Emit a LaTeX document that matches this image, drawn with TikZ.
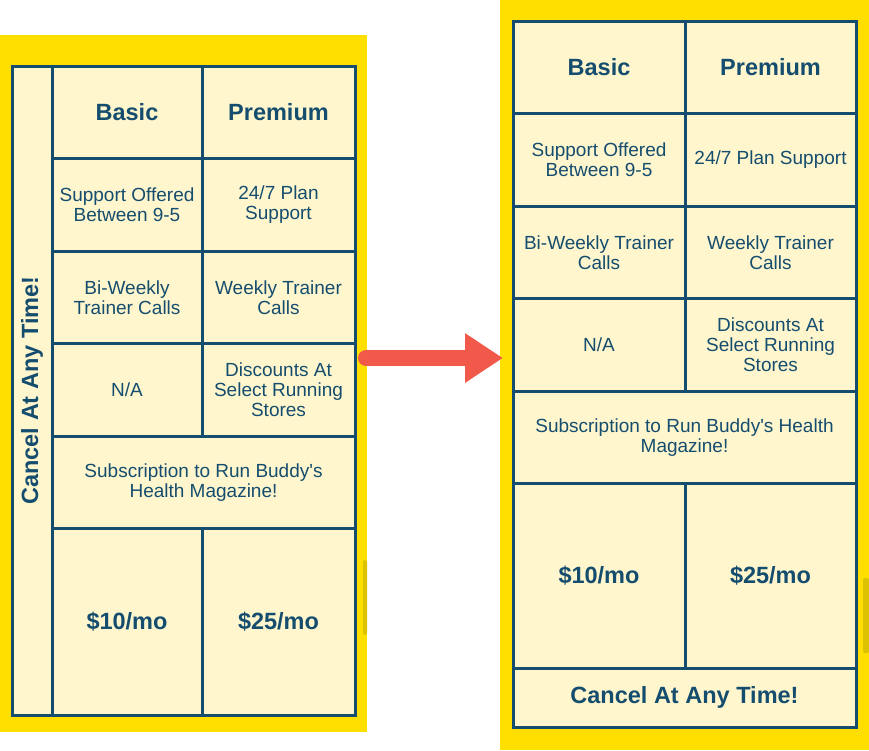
\documentclass[tikz,border=0pt]{standalone}
\usepackage{fontspec}
\setmainfont{Liberation Sans}[Ligatures=TeXOff]
\usetikzlibrary{arrows.meta,calc,positioning}
\definecolor{navy}{HTML}{154D6E}
\definecolor{cream}{HTML}{FFF6CE}
\definecolor{gold}{HTML}{FFDF00}
\definecolor{coral}{HTML}{F15A4B}
\definecolor{scroll}{HTML}{DCC200}
\newdimen\hdim
\newdimen\wdim
\newdimen\odim
\hdim=92.5pt
\tikzstyle{cell}=[
  draw=navy,
  fill=cream,
  text=navy,
  font={\fontsize{19}{20}\selectfont},
  align=center,
  inner sep=0pt,
  outer sep=0pt,
  minimum height=\hdim,
  line width=3pt,
  rectangle,
]
\tikzstyle{head}=[
  font={\fontsize{23.5}{25}\selectfont\bfseries},
]
\tikzstyle{panel}=[
  fill=gold,
  inner sep=0pt,
  outer sep=0pt,
  rectangle,
]
\tikzstyle{scrollbar}=[
  fill=scroll,
  rounded corners=2pt,
]
\tikzstyle{bigarrow}=[
  color=coral,
  line width=16pt,
  line cap=round,
]
\tikzset{
  node distance=0pt,
  >={Triangle[length=38pt,width=47pt]},
  x=1pt,
  y=-1pt,
}
\begin{document}
\begin{tikzpicture}
      \useasboundingbox (0,0) rectangle (869,750);
      \node (lpanel) [panel, minimum width=367pt, minimum height=697pt] at (183.5,383.5) {};
      \node (rpanel) [panel, minimum width=369pt, minimum height=750pt] at (684.5,375) {};
      \fill [scrollbar] (363,560) rectangle (367,635);
      \fill [scrollbar] (863,578) rectangle (869,653);
      %% left table
      \wdim=150pt \odim=153pt
      \node (lbasic) [cell, head, minimum width=\wdim, anchor=north west] at (52,66) {Basic};
      \node (lpremium) [cell, head, minimum width=\odim, right=of lbasic] {Premium};
      \node (lsupport) [cell, minimum width=\wdim, below=of lbasic] {Support Offered\\Between 9-5};
      \node (lplan) [cell, minimum width=\odim, right=of lsupport] {24/7 Plan\\Support};
      \node (ltrainer) [cell, minimum width=\wdim, below=of lsupport] {Bi-Weekly\\Trainer Calls};
      \node (lweekly) [cell, minimum width=\odim, right=of ltrainer] {Weekly Trainer\\Calls};
      \node (lna) [cell, minimum width=\wdim, below=of ltrainer] {N/A};
      \node (ldiscount) [cell, minimum width=\odim, right=of lna] {Discounts At\\Select Running\\Stores};
      \node (lmagazine) [cell, minimum width=\wdim+\odim, anchor=north west] at (lna.south west)
        {Subscription to Run Buddy's\\Health Magazine!};
      \node (lbasicprice) [cell, head, minimum width=\wdim, minimum height=186.5pt, anchor=north west]
        at (lmagazine.south west) {\$10/mo};
      \node (lpremiumprice) [cell, head, minimum width=\odim, minimum height=186.5pt, right=of lbasicprice] {\$25/mo};
      \node (lcancel) [cell, head, rotate=90, minimum width=649pt, minimum height=40pt] at (32,390.5)
        {Cancel At Any Time!};
      %% right table
      \wdim=172pt \odim=171pt
      \node (rbasic) [cell, head, minimum width=\wdim, anchor=north west] at (513,21) {Basic};
      \node (rpremium) [cell, head, minimum width=\odim, right=of rbasic] {Premium};
      \node (rsupport) [cell, minimum width=\wdim, below=of rbasic] {Support Offered\\Between 9-5};
      \node (rplan) [cell, minimum width=\odim, right=of rsupport] {24/7 Plan Support};
      \node (rtrainer) [cell, minimum width=\wdim, below=of rsupport] {Bi-Weekly Trainer\\Calls};
      \node (rweekly) [cell, minimum width=\odim, right=of rtrainer] {Weekly Trainer\\Calls};
      \node (rna) [cell, minimum width=\wdim, below=of rtrainer] {N/A};
      \node (rdiscount) [cell, minimum width=\odim, right=of rna] {Discounts At\\Select Running\\Stores};
      \node (rmagazine) [cell, minimum width=\wdim+\odim, anchor=north west] at (rna.south west)
        {Subscription to Run Buddy's Health\\Magazine!};
      \node (rbasicprice) [cell, head, minimum width=\wdim, minimum height=184.5pt, anchor=north west]
        at (rmagazine.south west) {\$10/mo};
      \node (rpremiumprice) [cell, head, minimum width=\odim, minimum height=184.5pt, right=of rbasicprice] {\$25/mo};
      \node (rcancel) [cell, head, minimum width=\wdim+\odim, minimum height=59pt, anchor=north west]
        at (rbasicprice.south west) {Cancel At Any Time!};
      %%
      \draw [->, bigarrow] ($(lpanel.east)+(-1,-25.5)$) -- ($(rpanel.west)+(3,-17)$);
\end{tikzpicture}
\end{document}
